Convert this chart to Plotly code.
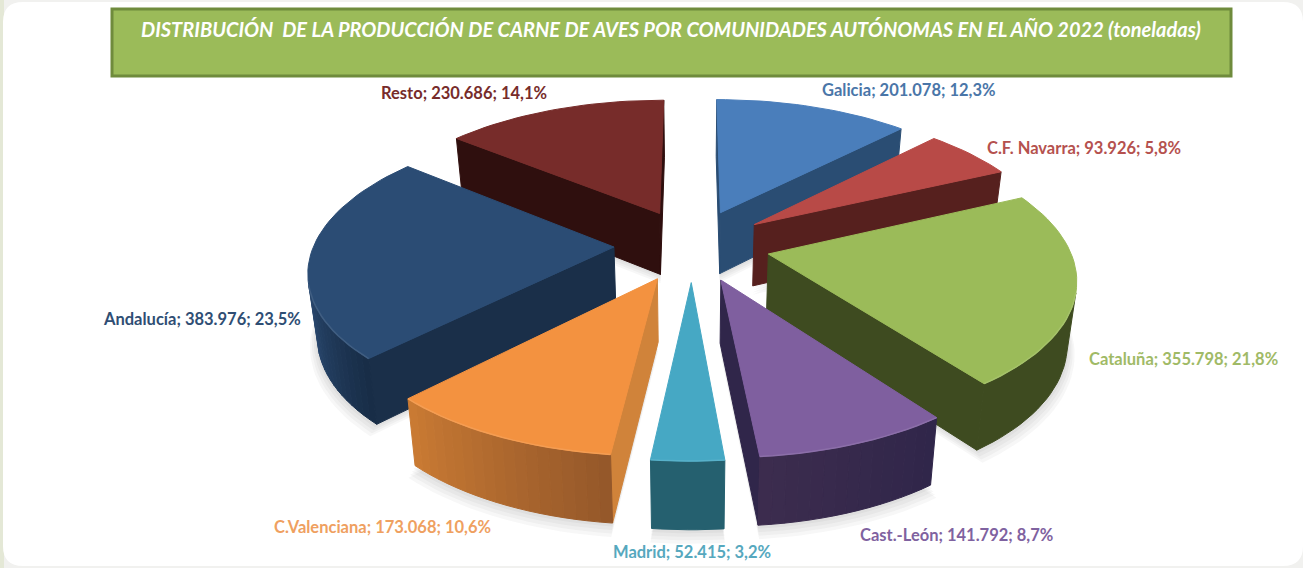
import math
import plotly.graph_objects as go

# ---- data ----
regions = ["Galicia", "C.F. Navarra", "Cataluña", "Cast.-León", "Madrid",
           "C.Valenciana", "Andalucía", "Resto"]
tonnes = [201078, 93926, 355798, 141792, 52415, 173068, 383976, 230686]
title_text = "DISTRIBUCIÓN  DE LA PRODUCCIÓN DE CARNE DE AVES POR COMUNIDADES AUTÓNOMAS EN EL AÑO 2022 (toneladas)"

# ---- styles (top, rim at slice start, rim at slice end, radial side, label) ----
top_colors = ["#4A7EBB", "#B84A47", "#9BBB59", "#7F5F9F", "#46A8C4", "#F39240", "#2B4C74", "#772C2A"]
rim_start = ["#2A4D73", "#56201E", "#3E4B20", "#30264A", "#25606F", "#95582A", "#182D47", "#2F0F0E"]
rim_end = ["#2A4D73", "#56201E", "#3E4B20", "#3C2C4E", "#25606F", "#C97A33", "#28466C", "#2F0F0E"]
side_colors = ["#2A4D73", "#56201E", "#3E4B20", "#30264A", "#25606F", "#D0833A", "#1A2F49", "#2F0F0E"]
label_colors = ["#4A76A8", "#B5514E", "#A0BA66", "#7F62A0", "#56A8BE", "#EFA060", "#2F4E74", "#772C2A"]
label_centers = [(909, 90), (1084, 148), (1183, 359), (956, 535), (692, 552), (382, 527), (202, 319), (464, 93)]
draw_order = [7, 0, 1, 6, 2, 5, 3, 4]

# ---- projection of the tilted, exploded disc ----
CX, CY, A, B, P, EXPLODE = 692, 245, 300, 139, 0.15, 0.26
DEPTH, BOTTOM_X = 62, 0.975
RIM_BANDS = 22


def project(x, y, down=False):
    s = 1 / (1 + P * y)
    px, py = CX + A * x * s, CY - B * y * s
    if down:
        px = CX + (px - CX) * BOTTOM_X
        py += DEPTH * s ** 0.5
    return px, py


total = sum(tonnes)
fig = go.Figure()


def poly(pts, fill, line=None, width=1.0):
    xs, ys = zip(*pts)
    fig.add_trace(go.Scatter(x=list(xs) + [xs[0]], y=list(ys) + [ys[0]], mode="lines", fill="toself",
                             fillcolor=fill, line=dict(color=line or fill, width=width if line != "rgba(0,0,0,0)" else 0),
                             hoverinfo="skip", showlegend=False))


def mix(c1, c2, t):
    a = [int(c1[i:i + 2], 16) for i in (1, 3, 5)]
    b = [int(c2[i:i + 2], 16) for i in (1, 3, 5)]
    return "#%02x%02x%02x" % tuple(round(u + (v - u) * t) for u, v in zip(a, b))


def area(q):
    return sum(q[i][0] * -q[(i + 1) % len(q)][1] + q[(i + 1) % len(q)][0] * q[i][1] for i in range(len(q))) / 2


spans, cum = [], 0.0
for v in tonnes:
    spans.append((cum, cum + v / total * 2 * math.pi))
    cum += v / total * 2 * math.pi


def wedge_world(i, grow=1.0):
    t0, t1 = spans[i]
    mid = (t0 + t1) / 2
    ex, ey = EXPLODE * math.sin(mid), EXPLODE * math.cos(mid)
    n = max(8, int((t1 - t0) / 0.035))
    arc = [(ex + grow * math.sin(t0 + (t1 - t0) * k / n), ey + grow * math.cos(t0 + (t1 - t0) * k / n))
           for k in range(n + 1)]
    return (ex, ey), arc


# soft ground shadows
for i in draw_order:
    for k in (4, 3, 2, 1):
        apex, arc = wedge_world(i, 1 + 0.006 * k)
        pts = [project(*apex, True)] + [project(*p, True) for p in arc]
        pts = [(x, y + 2.2 * k) for x, y in pts]
        poly(pts, "rgba(60,60,60,0.04)", "rgba(0,0,0,0)")

# slices, far to near
for i in draw_order:
    apex, arc = wedge_world(i)
    top_apex, bot_apex = project(*apex), project(*apex, True)
    top_arc = [project(*p) for p in arc]
    bot_arc = [project(*p, True) for p in arc]
    # radial faces
    q = [top_apex, top_arc[0], bot_arc[0], bot_apex]
    if area(q) > 0:
        poly(q, side_colors[i])
    q = [top_arc[-1], top_apex, bot_apex, bot_arc[-1]]
    if area(q) > 0:
        poly(q, side_colors[i])
    # outer rim, drawn in shaded bands
    visible = [k for k in range(len(arc) - 1)
               if area([top_arc[k], top_arc[k + 1], bot_arc[k + 1], bot_arc[k]]) > 0]
    if visible:
        uniform = rim_start[i] == rim_end[i]
        bands = 1 if uniform else RIM_BANDS
        size = math.ceil(len(visible) / bands)
        for b in range(bands):
            chunk = visible[b * size:(b + 1) * size]
            if not chunk:
                continue
            top_edge = top_arc[chunk[0]:chunk[-1] + 2]
            bot_edge = bot_arc[chunk[0]:chunk[-1] + 2]
            t = chunk[0] / max(1, visible[-1])
            poly(top_edge + bot_edge[::-1], mix(rim_start[i], rim_end[i], t))
    # top face
    poly([top_apex] + top_arc, top_colors[i])
    # bevel along the visible rim
    if visible:
        xs = [top_arc[k][0] for k in visible] + [top_arc[visible[-1] + 1][0]]
        ys = [top_arc[k][1] for k in visible] + [top_arc[visible[-1] + 1][1]]
        fig.add_trace(go.Scatter(x=xs, y=ys, mode="lines", hoverinfo="skip", showlegend=False,
                                 line=dict(color=mix(top_colors[i], "#FFFFFF", 0.1), width=1.5)))


def es_num(v):
    return f"{v:,}".replace(",", ".")


annotations = []
for name, v, col, (lx, ly) in zip(regions, tonnes, label_colors, label_centers):
    pct = f"{v / total * 100:.1f}".replace(".", ",")
    annotations.append(dict(x=lx, y=ly, xref="x", yref="y", showarrow=False,
                            text=f"<b>{name}; {es_num(v)}; {pct}%</b>",
                            font=dict(family="Lato", size=16.5, color=col)))
annotations.append(dict(x=671, y=29, xref="x", yref="y", showarrow=False,
                        text=f"<b><i>{title_text}</i></b>",
                        font=dict(family="Lato", size=20, color="#FFFFFF")))

# card outline path, rounded corners
R = 20
card = (f"M 3 {2 + R} Q 3 2 {3 + R} 2 L {1303 - R} 2 Q 1303 2 1303 {2 + R} L 1303 {566 - R} "
        f"Q 1303 566 {1303 - R} 566 L {3 + R} 566 Q 3 566 3 {566 - R} Z")

fig.update_layout(
    width=1303, height=568, margin=dict(l=0, r=0, t=0, b=0),
    paper_bgcolor="#F1F1EF", plot_bgcolor="rgba(0,0,0,0)", showlegend=False,
    xaxis=dict(range=[0, 1303], visible=False, fixedrange=True),
    yaxis=dict(range=[568, 0], visible=False, fixedrange=True),
    annotations=annotations,
    shapes=[
        dict(type="rect", x0=0, x1=4, y0=0, y1=568, xref="x", yref="y", fillcolor="#E4E8D6",
             line=dict(width=0), layer="below"),
        dict(type="path", path=card, xref="x", yref="y", fillcolor="#FFFFFF", line=dict(width=0), layer="below"),
        dict(type="rect", x0=112, x1=1231, y0=9, y1=76, xref="x", yref="y", fillcolor="#9BBB59",
             line=dict(color="#6F8B3C", width=3), layer="below"),
    ],
)
fig.write_html("out.html", config={"displayModeBar": False},
               post_script="document.body.style.margin='0';document.documentElement.style.overflow='hidden';")
